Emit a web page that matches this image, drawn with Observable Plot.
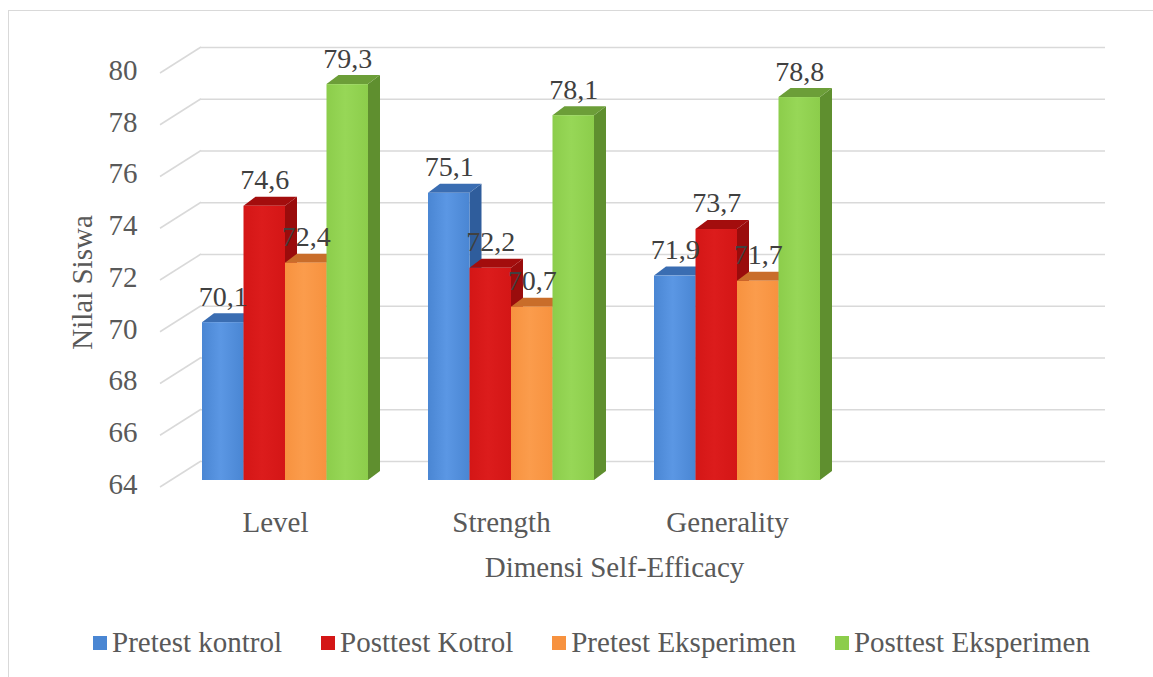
<!DOCTYPE html>
<html>
<head>
<meta charset="utf-8">
<script src="https://cdn.jsdelivr.net/npm/d3@7"></script>
<script src="https://cdn.jsdelivr.net/npm/@observablehq/plot@0.6"></script>
<style>
  body { margin: 0; background: #fff; }
  #frame { position: absolute; left: 8px; top: 10px; width: 1170px; height: 700px; border: 1px solid #d9d9d9; box-sizing: border-box; }
  #chart { position: absolute; left: 0; top: 0; }
  #legend { position: absolute; top: 626px; left: 0; width: 1153px; padding-left: 30px; box-sizing: border-box;
            display: flex; justify-content: center; gap: 39px;
            font-family: "Liberation Serif", "Times New Roman", Times, "DejaVu Serif", serif; font-size: 29px; color: #595959; }
  .item { display: flex; align-items: center; white-space: nowrap; }
  .sw { width: 14px; height: 14px; margin-right: 5px; }
</style>
</head>
<body>
<div id="frame"></div>
<div id="chart"></div>
<div id="legend"></div>
<script>
// ---- data ----
const categories = ["Level", "Strength", "Generality"];
const seriesNames = ["Pretest kontrol", "Posttest Kotrol", "Pretest Eksperimen", "Posttest Eksperimen"];
const pretestKontrol = [70.1, 75.1, 71.9];
const posttestKotrol = [74.6, 72.2, 73.7];
const pretestEksperimen = [72.4, 70.7, 71.7];
const posttestEksperimen = [79.3, 78.1, 78.8];
const yTicks = [64, 66, 68, 70, 72, 74, 76, 78, 80];
const xTitle = "Dimensi Self-Efficacy";
const yTitle = "Nilai Siswa";

// ---- styles ----
const FONT = '"Liberation Serif", "Times New Roman", Times, "DejaVu Serif", serif';
const frontColors = ["#4a86d3", "#d41616", "#f7923f", "#8ccd4b"];
const lightColors = ["#5b97e4", "#dc1c1c", "#fb9c4c", "#97d757"];
const topColors = ["#3a6db2", "#a30d0d", "#c96d2a", "#6c9e38"];
const sideColors = ["#2f5d9c", "#9a0c0c", "#c0632a", "#5f8f2f"];
const gridColor = "#d9d9d9";

const seriesValues = [pretestKontrol, posttestKotrol, pretestEksperimen, posttestEksperimen];
const data = categories.flatMap((c, j) =>
  seriesNames.map((s, i) => ({category: c, series: s, si: i, value: seriesValues[i][j]})));
const xDomain = [...categories, ""];

const W = 1153, H = 600;
const mL = 162, mR = 87, mT = 66, mB = 120;
const bw = (W - mL - mR) / xDomain.length;
const lead = 40, barW = 41.5, depthX = 12, depthY = 9;
const wallDX = 39, wallDY = 19;
const base = yTicks[0];
const fmt = v => String(v).replace(".", ",");

const defsMark = () => {
  const defs = d3.create("svg:defs");
  frontColors.forEach((c, i) => {
    const g = defs.append("linearGradient").attr("id", "grad" + i).attr("x1", 0).attr("x2", 1).attr("y1", 0).attr("y2", 0);
    g.append("stop").attr("offset", "0%").attr("stop-color", c);
    g.append("stop").attr("offset", "45%").attr("stop-color", lightColors[i]);
    g.append("stop").attr("offset", "100%").attr("stop-color", c);
  });
  return defs.node();
};

const diagonals = (index, scales, values, dims) => {
  const g = d3.create("svg:g").attr("stroke", gridColor).attr("stroke-width", 1.5);
  const x0 = dims.marginLeft;
  for (const v of yTicks) {
    const y = scales.y(v);
    g.append("line").attr("x1", x0 - 2).attr("y1", y + 7).attr("x2", x0 + wallDX).attr("y2", y - wallDY);
  }
  return g.node();
};

const faces = (i) => (index, scales) => {
  const g = d3.create("svg:g");
  for (const d of data.filter(d => d.si === i)) {
    const x0 = scales.x(d.category) + lead + i * barW, x1 = x0 + barW;
    const yt = scales.y(d.value), yb = scales.y(base);
    g.append("path")
      .attr("d", `M${x1},${yt}L${x1 + depthX},${yt - depthY}L${x1 + depthX},${yb - depthY}L${x1},${yb}Z`)
      .attr("fill", sideColors[i]);
    g.append("path")
      .attr("d", `M${x0},${yt}L${x0 + depthX},${yt - depthY}L${x1 + depthX},${yt - depthY}L${x1},${yt}Z`)
      .attr("fill", topColors[i]);
  }
  return g.node();
};

const barMarks = seriesNames.flatMap((s, i) => [
  faces(i),
  Plot.barY(data.filter(d => d.si === i), {
    x: "category", y1: base, y2: "value",
    fill: `url(#grad${i})`,
    insetLeft: lead + i * barW,
    insetRight: bw - lead - (i + 1) * barW
  })
]);

const labelMarks = seriesNames.map((s, i) =>
  Plot.text(data.filter(d => d.si === i), {
    x: "category", y: "value", text: d => fmt(d.value),
    dx: lead + barW * (i + 0.5) - bw / 2, dy: -26,
    fontSize: 28, fontFamily: FONT, fill: "#404040"
  }));

const chart = Plot.plot({
  width: W, height: H,
  marginLeft: mL, marginRight: mR, marginTop: mT, marginBottom: mB,
  style: {fontFamily: FONT, fontSize: "29px", color: "#595959", background: "transparent", overflow: "visible"},
  x: {type: "band", domain: xDomain, padding: 0, axis: null},
  y: {domain: [yTicks[0], yTicks[yTicks.length - 1]], axis: null},
  marks: [
    defsMark,
    Plot.ruleY(yTicks, {dx: wallDX, dy: -wallDY, stroke: gridColor, strokeWidth: 1.5}),
    diagonals,
    ...barMarks,
    ...labelMarks,
    Plot.text(yTicks, {y: d => d, text: d => String(d), frameAnchor: "left", dx: -25, dy: 4, textAnchor: "end", fontSize: 29, fontFamily: FONT, fill: "#595959"}),
    Plot.text(categories, {x: d => d, text: d => d, frameAnchor: "bottom", dy: 51, fontSize: 29, fontFamily: FONT, fill: "#595959"}),
    Plot.text([xTitle], {frameAnchor: "bottom", dy: 96, fontSize: 29, fontFamily: FONT, fill: "#595959"}),
    Plot.text([yTitle], {frameAnchor: "left", textAnchor: "middle", dx: -80, dy: 9, rotate: -90, fontSize: 29, fontFamily: FONT, fill: "#595959"})
  ]
});
document.getElementById("chart").appendChild(chart);

const legend = document.getElementById("legend");
seriesNames.forEach((s, i) => {
  const item = document.createElement("div");
  item.className = "item";
  const sw = document.createElement("span");
  sw.className = "sw";
  sw.style.background = frontColors[i];
  const t = document.createElement("span");
  t.textContent = s;
  item.appendChild(sw); item.appendChild(t);
  legend.appendChild(item);
});
</script>
</body>
</html>
